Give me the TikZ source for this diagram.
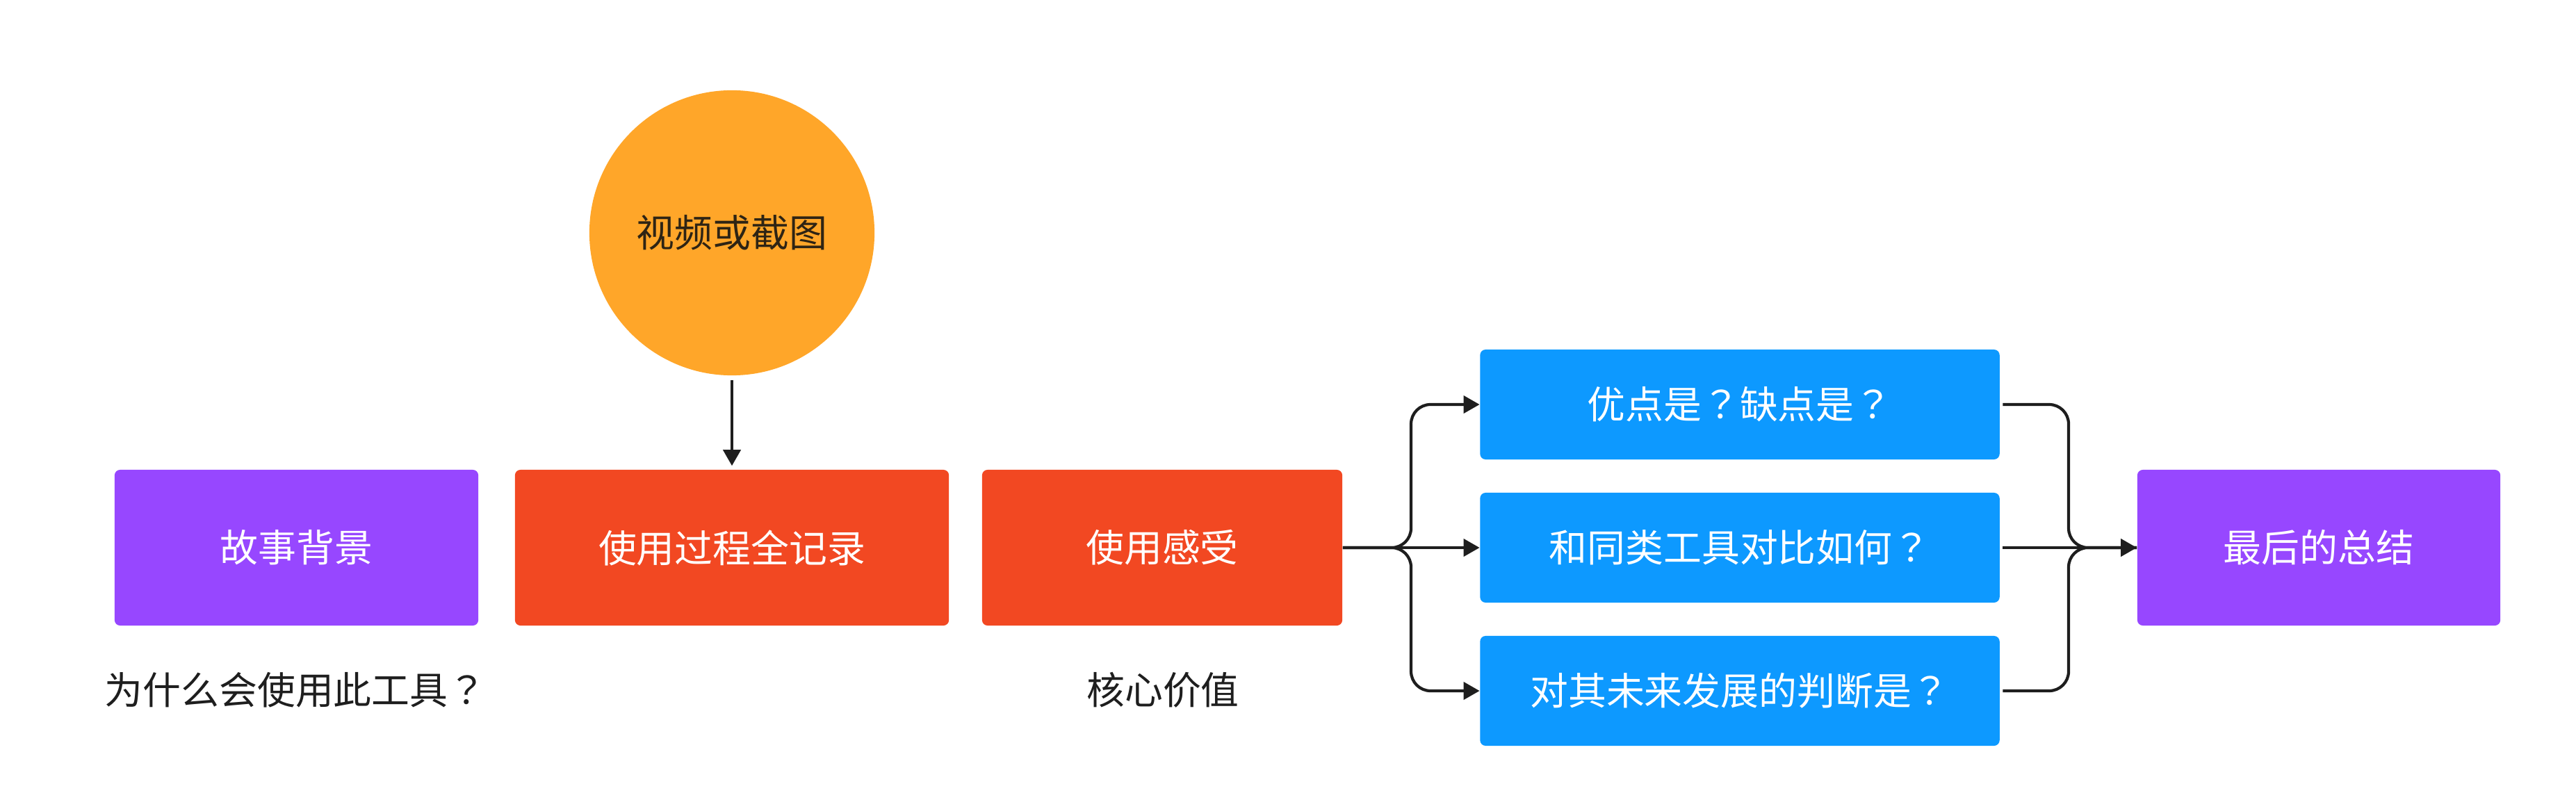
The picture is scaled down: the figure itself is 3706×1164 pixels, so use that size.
\documentclass[tikz,border=0pt]{standalone}
\usepackage{fontspec}
\setmainfont{Noto Sans CJK SC}
\newfontfamily\tcq{Noto Sans CJK TC}
\newcommand{\qm}{{\tcq ？}}
\usetikzlibrary{arrows.meta}
\definecolor{fpurple}{HTML}{9747FF}
\definecolor{fred}{HTML}{F24822}
\definecolor{forange}{HTML}{FFA629}
\definecolor{fblue}{HTML}{0D99FF}
\definecolor{fink}{HTML}{1E1E1E}
\definecolor{cirtext}{HTML}{2E2414}
\tikzset{
  box/.style={rectangle, rounded corners=0.08cm, minimum height=2.24cm, inner sep=0pt, text=white,
    font=\fontsize{15.6pt}{18pt}\selectfont},
  qbox/.style={box, fill=fblue, minimum width=7.47cm, minimum height=1.58cm},
  lbl/.style={text=fink, inner sep=0pt, font=\fontsize{15.6pt}{18pt}\selectfont},
  conn/.style={draw=fink, line width=1.2pt, rounded corners=0.28cm},
  arr/.style={conn, -{Triangle[length=0.23cm,width=0.25cm]}},
}
\begin{document}
\begin{tikzpicture}[x=0.01cm, y=-0.01cm]
\useasboundingbox (0,0) rectangle (3706,1164);
\fill[white] (0,0) rectangle (3706,1164);

\node[circle, fill=forange, minimum size=4.1cm, inner sep=0pt, text=cirtext,
  font=\fontsize{15.6pt}{18pt}\selectfont] (vid) at (1053,335) {视频或截图};

\node[box, fill=fpurple, minimum width=5.23cm] (bg) at (426.5,788) {故事背景};
\node[box, fill=fred, minimum width=6.24cm] (rec) at (1053,788) {使用过程全记录};
\node[box, fill=fred, minimum width=5.18cm] (feel) at (1672,788) {使用感受};

\node[qbox] (q1) at (2503,582) {优点是\qm 缺点是\qm};
\node[qbox] (q2) at (2503,788) {和同类工具对比如何\qm};
\node[qbox] (q3) at (2503,994) {对其未来发展的判断是\qm};

\node[box, fill=fpurple, minimum width=5.22cm] (sum) at (3336,788) {最后的总结};

\node[lbl] (l1) at (425,993) {为什么会使用此工具\qm};
\node[lbl] (l2) at (1673,993) {核心价值};

\draw[arr, shorten <=0.06cm, shorten >=0.05cm] (vid.south) -- (vid.south |- rec.north);

\draw[arr] (feel.east) -- (2030,788) -- (2030,582) -- (q1.west);
\draw[arr] (feel.east) -- (q2.west);
\draw[arr] (feel.east) -- (2030,788) -- (2030,994) -- (q3.west);

\draw[conn, shorten <=0.04cm] (q1.east) -- (2976,582) -- (2976,788) -- (sum.west);
\draw[conn, shorten <=0.04cm] (q3.east) -- (2976,994) -- (2976,788) -- (sum.west);
\draw[arr, shorten <=0.04cm] (q2.east) -- (sum.west);
\end{tikzpicture}
\end{document}
